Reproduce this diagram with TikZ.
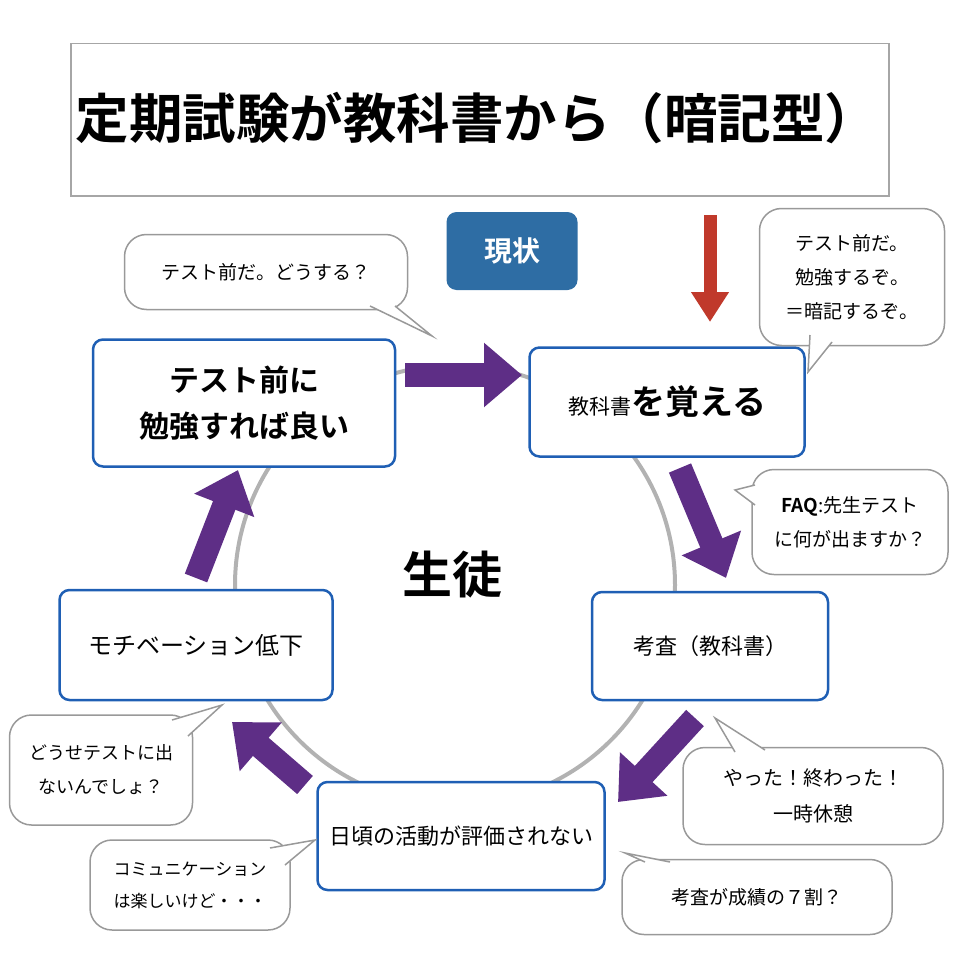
\documentclass[tikz,border=0pt]{standalone}
\usepackage{fontspec}
\setmainfont{Noto Sans CJK JP}[BoldFont={Noto Sans CJK JP Bold}]
\usetikzlibrary{arrows.meta}
\definecolor{nb}{HTML}{1F5FB4}
\definecolor{pu}{HTML}{5E2E86}
\definecolor{rd}{HTML}{C0392B}
\definecolor{bd}{HTML}{2E6DA4}
\tikzset{
 nd/.style={draw=nb,line width=2.5pt,rounded corners=10pt,fill=white,align=center},
 bb/.style={draw=gray!80,line width=1.5pt,rounded corners=22pt,fill=white,align=center,font=\fontsize{19}{28}\selectfont},
 pa/.style={-{Triangle[length=38pt,width=62pt]},line width=24pt,pu},
}
\newcommand{\tail}[3]{\fill[white](#1)--(#3)--(#2)--cycle;\draw[gray!80,line width=1.5pt](#1)--(#3)--(#2);}
\begin{document}
\begin{tikzpicture}[x=1pt,y=-1pt]
\useasboundingbox (0,0) rectangle (960,960);
\node[draw=gray!70,line width=1.5pt,minimum width=818pt,minimum height=152pt,anchor=north west] (title) at (70,43) {};
\node[anchor=west,font=\fontsize{53.5}{60}\selectfont\bfseries] (tt) at (72,118) {定期試験が教科書から（暗記型）};
\node[fill=bd,rounded corners=10pt,minimum width=131pt,minimum height=78pt,text=white,font=\fontsize{28}{30}\selectfont\bfseries] (gen) at (512,251) {現状};
\coordinate (r1) at (710,215); \coordinate (r2) at (710,322);
\draw[-{Triangle[length=30pt,width=36pt]},line width=13pt,rd] (r1)--(r2);
\node[draw=gray!60,line width=4pt,circle,minimum size=440pt] (cir) at (455,585) {};
\node[font=\fontsize{50}{60}\selectfont\bfseries] (st) at (452,575) {生徒};
\node[nd,minimum width=302pt,minimum height=127pt,font=\fontsize{30}{46}\selectfont\bfseries] (A) at (244,403) {テスト前に\\勉強すれば良い};
\node[nd,minimum width=275pt,minimum height=109pt] (B) at (667,402) {\fontsize{21}{28}\selectfont 教科書\fontsize{34}{40}\selectfont\bfseries を覚える};
\node[nd,minimum width=236pt,minimum height=108pt,font=\fontsize{22}{28}\selectfont] (C) at (710,646) {考査（教科書）};
\node[nd,minimum width=287pt,minimum height=108pt,font=\fontsize{22}{28}\selectfont] (D) at (461,836) {日頃の活動が評価されない};
\node[nd,minimum width=273pt,minimum height=110pt,font=\fontsize{24}{28}\selectfont] (E) at (196,645) {モチベーション低下};
\coordinate (a1) at (405,375); \coordinate (a2) at (522,375);
\coordinate (b1) at (680,468); \coordinate (b2) at (726,578);
\coordinate (c1) at (695,718); \coordinate (c2) at (618,802);
\coordinate (d1) at (305,785); \coordinate (d2) at (232,722);
\coordinate (e1) at (196,578); \coordinate (e2) at (238,470);
\draw[pa](a1)--(a2); \draw[pa](b1)--(b2); \draw[pa](c1)--(c2); \draw[pa](d1)--(d2); \draw[pa](e1)--(e2);
% bubbles
\node[bb,minimum width=283pt,minimum height=75pt] (s1) at (266,272) {テスト前だ。どうする？};
\coordinate (t1a) at (370,306); \coordinate (t1b) at (395,306); \coordinate (t1c) at (432,336); \tail{t1a}{t1b}{t1c}
\node[bb,minimum width=185pt,minimum height=137pt,font=\fontsize{19}{34}\selectfont] (s2) at (852,277) {テスト前だ。\\勉強するぞ。\\＝暗記するぞ。};
\coordinate (t2a) at (810,335); \coordinate (t2b) at (832,342); \coordinate (t2c) at (808,372); \tail{t2a}{t2b}{t2c}
\node[bb,minimum width=196pt,minimum height=105pt,font=\fontsize{19}{34}\selectfont] (s3) at (850,522) {{\bfseries FAQ}:先生テスト\\に何が出ますか？};
\coordinate (t3a) at (755,485); \coordinate (t3b) at (755,505); \coordinate (t3c) at (735,490); \tail{t3a}{t3b}{t3c}
\node[bb,minimum width=260pt,minimum height=97pt,font=\fontsize{20}{36}\selectfont] (s4) at (813,796) {やった！終わった！\\一時休憩};
\coordinate (t4a) at (735,752); \coordinate (t4b) at (765,750); \coordinate (t4c) at (715,718); \tail{t4a}{t4b}{t4c}
\node[bb,minimum width=183pt,minimum height=110pt,font=\fontsize{18}{34}\selectfont] (s5) at (101,770) {どうせテストに出\\ないんでしょ？};
\coordinate (t5a) at (172,720); \coordinate (t5b) at (188,736); \coordinate (t5c) at (222,705); \tail{t5a}{t5b}{t5c}
\node[bb,minimum width=200pt,minimum height=90pt,font=\fontsize{17}{32}\selectfont] (s6) at (190,885) {コミュニケーション\\は楽しいけど・・・};
\coordinate (t6a) at (270,848); \coordinate (t6b) at (285,865); \coordinate (t6c) at (315,840); \tail{t6a}{t6b}{t6c}
\node[bb,minimum width=270pt,minimum height=75pt] (s7) at (757,897) {考査が成績の７割？};
\coordinate (t7a) at (645,862); \coordinate (t7b) at (670,862); \coordinate (t7c) at (625,853); \tail{t7a}{t7b}{t7c}
\end{tikzpicture}
\end{document}
